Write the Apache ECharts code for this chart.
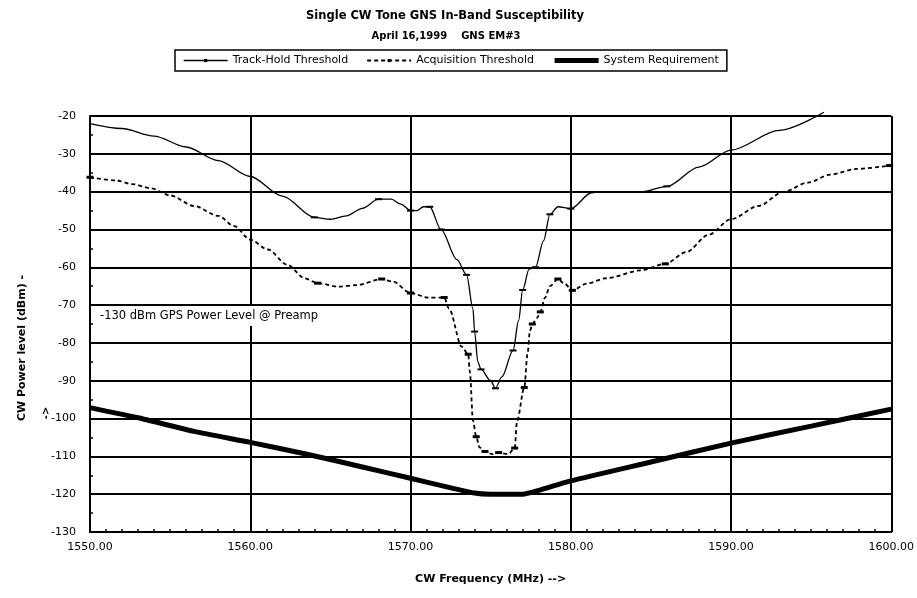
<!DOCTYPE html>
<html>
<head>
<meta charset="utf-8">
<script src="https://cdn.jsdelivr.net/npm/echarts@6/dist/echarts.min.js"></script>
<style>
  html, body { margin: 0; background: #fff; }
  #chart { width: 917px; height: 598px; }
</style>
</head>
<body>
<div id="chart"></div>
<script>
// values (MHz, dBm); mark flags say where the small dash markers sit
var trackFreq  = [1550, 1552, 1554, 1556, 1558, 1560, 1562, 1564, 1565, 1566, 1567, 1568, 1568.8, 1569.4, 1570, 1570.4, 1570.8, 1571.2, 1571.9, 1572.9, 1573.5, 1573.9, 1574.0, 1574.2, 1574.4, 1575.0, 1575.3, 1575.7, 1576.4, 1576.75, 1577.0, 1577.4, 1577.8, 1578.3, 1578.7, 1579.2, 1580, 1581.3, 1582, 1584.5, 1586, 1588, 1590, 1593, 1595.8];
var trackLevel = [-22, -23.3, -25.3, -28.2, -31.8, -36, -41.2, -46.8, -47.3, -46.4, -44.4, -42, -42, -43.3, -45, -45, -44, -44, -50, -58, -62, -71, -77, -85, -87, -90, -92, -89, -82, -74, -66, -60.5, -60, -53, -46, -44, -44.5, -40.3, -40, -40, -38.6, -33.5, -29, -23.8, -19];
var trackMark  = [0, 0, 0, 0, 0, 0, 0, 1, 0, 0, 0, 1, 0, 0, 1, 0, 0, 1, 1, 0, 1, 0, 1, 0, 1, 0, 1, 0, 1, 0, 1, 0, 1, 0, 1, 0, 1, 0, 0, 0, 1, 0, 0, 0, 0];

var acqFreq  = [1550, 1551.6, 1552.6, 1553.8, 1555, 1556.5, 1558, 1559, 1560, 1561.1, 1562.3, 1563.4, 1564.2, 1565.5, 1566.7, 1568.2, 1568.9, 1570, 1571.1, 1572.1, 1572.4, 1573.2, 1573.6, 1573.7, 1573.9, 1574.1, 1574.3, 1574.65, 1575.1, 1575.5, 1576.1, 1576.5, 1576.65, 1577.1, 1577.3, 1577.45, 1577.6, 1577.9, 1578.1, 1578.4, 1578.7, 1579.2, 1579.6, 1580.1, 1581, 1582.2, 1584.4, 1585.9, 1587.2, 1588.6, 1590, 1591.7, 1593.3, 1594.8, 1596.2, 1597.8, 1599.9];
var acqLevel = [-36.2, -37, -38, -39.1, -41, -43.8, -46.4, -49.1, -52.7, -55.3, -59.3, -62.9, -64.2, -65.1, -64.7, -63.1, -63.8, -66.8, -68, -68, -70.9, -81, -83, -87.5, -100.6, -104.8, -107.6, -108.7, -109.4, -109, -109.4, -107.8, -100.6, -91.8, -83, -76.9, -75, -73.4, -71.8, -68, -65, -63.1, -64.3, -66.1, -64.3, -62.9, -60.8, -59.1, -56, -51.4, -47.3, -43.8, -40, -37.6, -35.5, -34, -33.1];
var acqMark  = [1, 0, 0, 0, 0, 0, 0, 0, 0, 0, 0, 0, 1, 0, 0, 1, 0, 1, 0, 1, 0, 0, 1, 0, 0, 1, 0, 1, 0, 1, 0, 1, 0, 1, 0, 0, 1, 0, 1, 0, 0, 1, 0, 1, 0, 0, 0, 1, 0, 0, 0, 0, 0, 0, 0, 0, 1];

var reqFreq  = [1550, 1553, 1556.5, 1560, 1563.4, 1567, 1570, 1572, 1574, 1575, 1577, 1578, 1580, 1585, 1590, 1595, 1600];
var reqLevel = [-97.1, -99.8, -103.4, -106.3, -109.3, -112.8, -115.8, -117.8, -119.7, -120, -120, -119, -116.5, -111.5, -106.5, -102, -97.5];

var font = 'DejaVu Sans';

function points(xs, ys, marks) {
  return xs.map(function (x, i) {
    var p = { value: [x, ys[i]] };
    if (marks && !marks[i]) p.symbol = 'none';
    return p;
  });
}

var chart = echarts.init(document.getElementById('chart'));

chart.setOption({
  animation: false,
  backgroundColor: '#fff',
  title: [{
    text: 'Single CW Tone GNS In-Band Susceptibility',
    left: 440, top: 5, textAlign: 'center',
    textStyle: { fontFamily: font, fontSize: 11.5, fontWeight: 'bold', color: '#000' }
  }, {
    text: 'April 16,1999    GNS EM#3',
    left: 441, top: 26, textAlign: 'center',
    textStyle: { fontFamily: font, fontSize: 10, fontWeight: 'bold', color: '#000' }
  }],
  legend: {
    top: 50, left: 175,
    padding: [5, 8],
    itemGap: 18,
    itemWidth: 44, itemHeight: 4,
    borderColor: '#000', borderWidth: 1.5,
    textStyle: { fontFamily: font, fontSize: 11, color: '#000' },
    data: [
      { name: 'Track-Hold Threshold', lineStyle: { width: 1.3 } },
      { name: 'Acquisition Threshold', lineStyle: { width: 2 } },
      { name: 'System Requirement', lineStyle: { width: 5 },
        itemStyle: { color: 'rgba(0,0,0,0)', borderWidth: 0 } }
    ]
  },
  grid: { left: 90, right: 14, top: 116, bottom: 66 },
  xAxis: {
    type: 'value', min: 1550, max: 1600, interval: 10,
    axisLine: { lineStyle: { color: '#000', width: 2 } },
    axisTick: { inside: true, length: 4, lineStyle: { color: '#000', width: 2 } },
    minorTick: { show: true, splitNumber: 10, length: 3, lineStyle: { color: '#000', width: 1.5 } },
    splitLine: { show: true, lineStyle: { color: '#000', width: 2 } },
    axisLabel: {
      margin: 10, color: '#000', fontFamily: font, fontSize: 11,
      formatter: function (v) { return v.toFixed(2); }
    },
    name: 'CW Frequency (MHz) -->',
    nameLocation: 'middle', nameGap: 42,
    nameTextStyle: { fontFamily: font, fontSize: 11, fontWeight: 'bold', color: '#000' }
  },
  yAxis: {
    type: 'value', min: -130, max: -20, interval: 10,
    axisLine: { show: true, lineStyle: { color: '#000', width: 2 } },
    axisTick: { show: true, inside: true, length: 4, lineStyle: { color: '#000', width: 2 } },
    minorTick: { show: true, splitNumber: 2, length: 3, lineStyle: { color: '#000', width: 1.5 } },
    splitLine: { show: true, lineStyle: { color: '#000', width: 2 } },
    axisLabel: { margin: 14, color: '#000', fontFamily: font, fontSize: 11 }
  },
  graphic: [{
    type: 'text', left: 96, top: 306, z: 100,
    style: {
      text: '-130 dBm GPS Power Level @ Preamp',
      fontFamily: font, fontSize: 11.5, fill: '#000',
      backgroundColor: '#fff', padding: [4, 4]
    }
  }, {
    type: 'text', x: 22, y: 348, rotation: Math.PI / 2,
    style: {
      text: 'CW Power level (dBm) -', align: 'center', verticalAlign: 'middle',
      fontFamily: font, fontSize: 11, fontWeight: 'bold', fill: '#000'
    }
  }, {
    type: 'text', x: 46, y: 413, rotation: Math.PI / 2,
    style: {
      text: '->', align: 'center', verticalAlign: 'middle',
      fontFamily: font, fontSize: 10, fontWeight: 'bold', fill: '#000'
    }
  }],
  series: [{
    name: 'Track-Hold Threshold',
    type: 'line', smooth: 0.3, smoothMonotone: 'x', clip: false,
    symbol: 'rect', symbolSize: [7, 2], showSymbol: true,
    itemStyle: { color: '#000' },
    lineStyle: { color: '#000', width: 1.3 },
    data: points(trackFreq, trackLevel, trackMark)
  }, {
    name: 'Acquisition Threshold',
    type: 'line', smooth: 0.3, smoothMonotone: 'x',
    symbol: 'rect', symbolSize: [7, 3], showSymbol: true,
    itemStyle: { color: '#000' },
    lineStyle: { color: '#000', width: 1.8, type: [4, 3] },
    data: points(acqFreq, acqLevel, acqMark)
  }, {
    name: 'System Requirement',
    type: 'line', smooth: 0.2,
    symbol: 'none',
    itemStyle: { color: '#000' },
    lineStyle: { color: '#000', width: 5 },
    data: points(reqFreq, reqLevel)
  }]
});
</script>
</body>
</html>
